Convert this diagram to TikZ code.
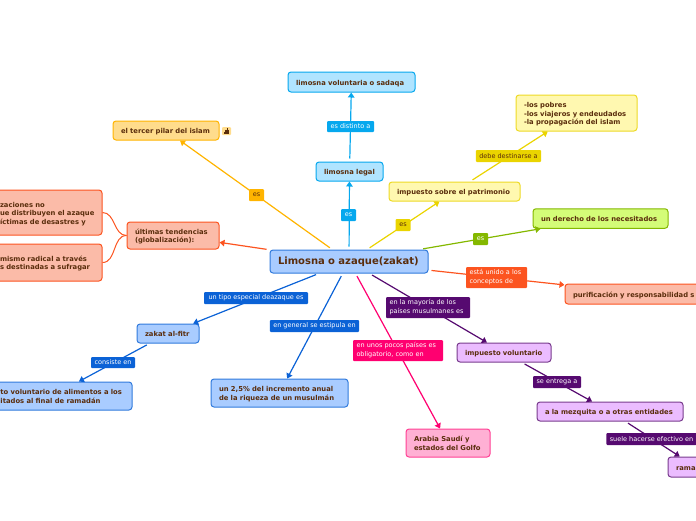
\documentclass[tikz,border=0pt]{standalone}
\usepackage{fontspec}
\setmainfont{DejaVu Sans}
\usetikzlibrary{arrows.meta}
\newcommand\boxline[1]{\raisebox{-1pt}[6pt][1.8pt]{#1}}
\definecolor{txt}{HTML}{5A2D0C}
\definecolor{bluef}{HTML}{A9CCFF}\definecolor{blued}{HTML}{0B62D6}
\definecolor{cyanf}{HTML}{B0E4FF}\definecolor{cyand}{HTML}{06A8EE}
\definecolor{yelf}{HTML}{FFF8B0}\definecolor{yeld}{HTML}{EAD400}
\definecolor{orf}{HTML}{FFDC8C}\definecolor{ord}{HTML}{FFB400}
\definecolor{salf}{HTML}{FBBBA8}\definecolor{sald}{HTML}{FC5420}
\definecolor{grf}{HTML}{D4FC78}\definecolor{grd}{HTML}{84B800}
\definecolor{purf}{HTML}{EBBCFF}\definecolor{purd}{HTML}{560A70}
\definecolor{pinf}{HTML}{FFB0D4}\definecolor{pind}{HTML}{FF0070}
\tikzset{
  x=1pt,y=-1pt,
  box/.style={rectangle,rounded corners=3pt,line width=1pt,inner xsep=8pt,inner ysep=0pt,align=left,text=txt,
    font=\fontsize{6.8}{8.5}\selectfont\bfseries},
  bxblue/.style={box,fill=bluef,draw=blued!85!white},
  bxcyan/.style={box,fill=cyanf,draw=cyand},
  bxyel/.style={box,fill=yelf,draw=yeld!85!white},
  bxor/.style={box,fill=orf,draw=ord},
  bxsal/.style={box,fill=salf,draw=sald},
  bxgr/.style={box,fill=grf,draw=grd},
  bxpur/.style={box,fill=purf,draw=purd!80!white},
  bxpin/.style={box,fill=pinf,draw=pind!75!white},
  lab/.style={rectangle,rounded corners=1pt,inner xsep=3.5pt,inner ysep=0pt,align=left,text=white,
    font=\fontsize{6.5}{9}\selectfont},
  conn/.style={line width=1.2pt,-{Triangle[length=5pt,width=6.5pt]},shorten <=3pt},
}
\begin{document}
\begin{tikzpicture}
\useasboundingbox (0,0) rectangle (696,520);
\clip (0,0) rectangle (696,520);
% nodes
\node[bxblue,text width=142pt,minimum height=23pt,font=\fontsize{10}{12}\selectfont\bfseries] (zakat) at (349,261.5) {\mbox{Limosna o azaque(zakat)}};
\node[bxcyan,text width=51pt,minimum height=19pt] (legal) at (349.5,171.5) {\boxline{limosna legal}};
\node[bxcyan,text width=111pt,minimum height=20pt] (volunt) at (351.5,82) {\boxline{limosna voluntaria o sadaqa}};
\node[bxyel,text width=115pt,minimum height=19pt] (patri) at (454.5,191.5) {\boxline{impuesto sobre el patrimonio}};
\node[bxyel,text width=105pt,minimum height=36pt] (pobres) at (576.5,113) {\boxline{-los pobres}\\\boxline{-los viajeros y endeudados}\\\boxline{-la propagación del islam}};
\node[bxgr,text width=119pt,minimum height=19.5pt] (derecho) at (600.5,218.5) {\boxline{un derecho de los necesitados}};
\node[bxsal,text width=150pt,minimum height=20pt] (purif) at (648,294) {\boxline{purificación y responsabilidad s}};
\node[bxpur,text width=78pt,minimum height=19pt] (impvol) at (504,352.5) {\boxline{impuesto voluntario}};
\node[bxpur,text width=130pt,minimum height=19pt] (mezq) at (610,411.5) {\boxline{a la mezquita o a otras entidades}};
\node[bxpur,text width=40pt,minimum height=20pt] (rama) at (696,467) {\boxline{rama}};
\node[bxpin,text width=68pt,minimum height=28pt] (arabia) at (448,443) {\boxline{Arabia Saudí y}\\\boxline{estados del Golfo}};
\node[bxblue,text width=121pt,minimum height=28pt] (anual) at (279.5,393) {\boxline{un 2,5\% del incremento anual}\\\boxline{de la riqueza de un musulmán}};
\node[bxblue,text width=46pt,minimum height=19pt] (fitr) at (168,333.5) {\boxline{zakat al-fitr}};
\node[bxblue,text width=144pt,minimum height=28pt] (alim) at (52,396) {\boxline{\hspace*{20.5pt}to voluntario de alimentos a los}\\\boxline{\hspace*{20.5pt}itados al final de ramadán}};
\node[bxsal,text width=76pt,minimum height=27pt] (ult) at (173,235.5) {\boxline{últimas tendencias}\\\boxline{(globalización):}};
\node[bxsal,text width=94pt,minimum height=45pt] (org) at (47,212.5) {\boxline{zaciones no}\\\boxline{ue distribuyen el azaque}\\\boxline{íctimas de desastres y}};
\node[bxsal,text width=94pt,minimum height=37pt] (rad) at (47,262.5) {\boxline{mismo radical a través}\\\boxline{s destinadas a sufragar}};
\node[bxor,text width=90pt,minimum height=19pt] (tercer) at (166,130.5) {\boxline{el tercer pilar del islam}};
\node[rectangle,rounded corners=1pt,fill=orf,inner sep=0pt,minimum width=9pt,minimum height=8pt] (icono) at (226.5,131) {};
\fill[txt] (225,130) rectangle (229,134);
\fill[txt] (226.5,128) rectangle (228,130);
\fill[txt] (223.5,132) rectangle (225,133.5);
% connectors
\draw[conn,ord] (zakat) -- (tercer);
\draw[conn,sald] (zakat) -- (ult);
\draw[conn,cyand] (zakat) -- (legal);
\draw[conn,cyand] (legal) -- (volunt);
\draw[conn,yeld] (zakat) -- (patri);
\draw[conn,yeld] (patri) -- (pobres);
\draw[conn,grd,shorten <=4pt] (zakat) -- (derecho);
\draw[conn,sald] (zakat) -- (purif);
\draw[conn,blued] (zakat) -- (fitr);
\draw[conn,blued] (zakat) -- (anual);
\draw[conn,blued] (fitr) -- (alim);
\draw[conn,purd] (zakat) -- (impvol);
\draw[conn,pind] (zakat) -- (arabia);
\draw[conn,purd] (impvol) -- (mezq);
\draw[conn,purd] (mezq) -- (rama);
\draw[sald,line width=1pt] (ult.west) to[out=180,in=0] (org.east);
\draw[sald,line width=1pt] (ult.west) to[out=180,in=0] (rad.east);
% labels
\node[lab,fill=ord,text=txt,minimum width=15pt,minimum height=12pt,align=center] (l1) at (256.5,195) {es};
\node[lab,fill=cyand,minimum width=15pt,minimum height=12pt,align=center] (l2) at (348.5,215) {es};
\node[lab,fill=cyand,minimum width=47pt,minimum height=11pt,align=center] (l3) at (350.5,126.5) {es distinto a};
\node[lab,fill=yeld,text=txt,minimum width=15pt,minimum height=12pt,align=center] (l4) at (403,225) {es};
\node[lab,fill=yeld,text=txt,minimum width=65pt,minimum height=12pt,align=center] (l5) at (508.5,156) {debe destinarse a};
\node[lab,fill=grd,minimum width=15pt,minimum height=12pt,align=center] (l6) at (480.5,239) {es};
\node[lab,fill=sald,text width=54pt,minimum height=21pt] (l7) at (496.5,277.5) {\mbox{está unido a los}\\\mbox{conceptos de}};
\node[lab,fill=blued,minimum width=104pt,minimum height=12pt,align=center] (l8) at (256,298) {un tipo especial deazaque es};
\node[lab,fill=blued,minimum width=89pt,minimum height=12pt,align=center] (l9) at (314.5,326) {en general se estipula en};
\node[lab,fill=blued,minimum width=44pt,minimum height=11pt,align=center] (l10) at (113,362.5) {consiste en};
\node[lab,fill=purd,text width=77pt,minimum height=21pt] (l11) at (428,307.5) {\mbox{en la mayoría de los}\\\mbox{países musulmanes es}};
\node[lab,fill=pind,text width=83pt,minimum height=21pt] (l12) at (398,350.5) {\mbox{en unos pocos países es}\\\mbox{obligatorio, como en}};
\node[lab,fill=purd,minimum width=48pt,minimum height=12pt,align=center] (l13) at (557,382) {se entrega a};
\node[lab,fill=purd,minimum width=89pt,minimum height=12pt,align=center] (l14) at (651.5,439) {suele hacerse efectivo en};
\end{tikzpicture}
\end{document}
